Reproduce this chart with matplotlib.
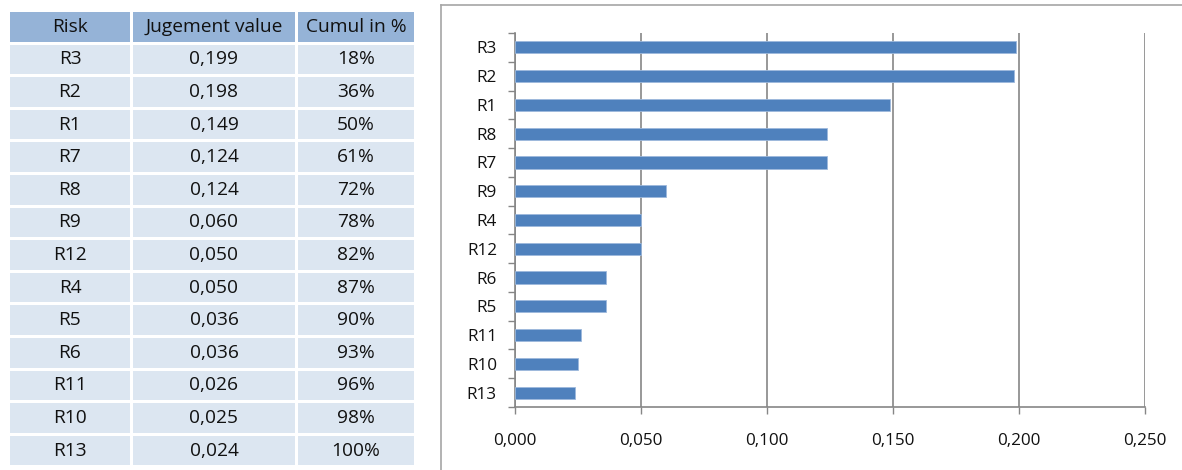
import matplotlib
matplotlib.use("Agg")
import matplotlib.pyplot as plt
from matplotlib.patches import Rectangle
from matplotlib.ticker import FuncFormatter

plt.rcParams['font.family'] = ['Open Sans', 'DejaVu Sans']

# Table data
table_header = ["Risk", "Jugement value", "Cumul in %"]
table_risks = ["R3", "R2", "R1", "R7", "R8", "R9", "R12", "R4", "R5", "R6", "R11", "R10", "R13"]
table_values = ["0,199", "0,198", "0,149", "0,124", "0,124", "0,060", "0,050", "0,050",
                "0,036", "0,036", "0,026", "0,025", "0,024"]
table_cumul = ["18%", "36%", "50%", "61%", "72%", "78%", "82%", "87%", "90%", "93%",
               "96%", "98%", "100%"]

# Chart data
bar_labels = ["R3", "R2", "R1", "R8", "R7", "R9", "R4", "R12", "R6", "R5", "R11", "R10", "R13"]
bar_values = [0.199, 0.198, 0.149, 0.124, 0.124, 0.060, 0.050, 0.050, 0.036, 0.036, 0.026, 0.025, 0.024]
x_ticks = [0.0, 0.05, 0.10, 0.15, 0.20, 0.25]

W, H = 1182, 470
fig = plt.figure(figsize=(W / 100, H / 100), dpi=100)

# Background overlay axes in pixel coordinates
bg = fig.add_axes([0, 0, 1, 1])
bg.set_xlim(0, W)
bg.set_ylim(H, 0)
bg.axis('off')

header_col = "#95B3D7"
row_col = "#DCE6F1"
text_col = "#111111"
col_edges = [(10, 130), (133, 295), (298, 414)]
top = 12
row_h = 32.6
gap = 3
rows = [table_header] + [list(r) for r in zip(table_risks, table_values, table_cumul)]
for i, row in enumerate(rows):
    y0 = top + i * row_h
    for (x0, x1), txt in zip(col_edges, row):
        bg.add_patch(Rectangle((x0, y0), x1 - x0, row_h - gap,
                               facecolor=header_col if i == 0 else row_col, edgecolor='none'))
        bg.text((x0 + x1) / 2, y0 + (row_h - gap) / 2, txt, ha='center', va='center',
                fontsize=13.8, color=text_col)

# Chart frame
bg.plot([441, 441], [5, H], color="#a6a6a6", lw=1.2)
bg.plot([441, W], [5, 5], color="#a6a6a6", lw=1.2)

# Bar chart
ax = fig.add_axes([515 / W, 63 / H, (1145 - 515) / W, (407 - 33) / H])
ypos = list(range(len(bar_labels)))
ax.barh(ypos, bar_values, height=0.42, color="#4F81BD", edgecolor="#9DB9DC", linewidth=0.6, zorder=3)
ax.set_ylim(len(bar_labels) - 0.5, -0.5)
ax.set_xlim(0, 0.25)
ax.set_yticks(ypos)
ax.set_yticklabels(bar_labels, fontsize=12.3, color=text_col)
ax.set_yticks([i - 0.5 for i in range(len(bar_labels) + 1)], minor=True)
ax.tick_params(axis='y', which='major', length=0, pad=13)
ax.tick_params(axis='y', which='minor', length=5, color="#868686", width=1)
ax.set_xticks(x_ticks)
ax.xaxis.set_major_formatter(FuncFormatter(lambda v, p: f"{v:.3f}".replace('.', ',')))
ax.tick_params(axis='x', length=5, color="#868686", width=1, pad=14, labelsize=12.3, labelcolor=text_col)
ax.grid(axis='x', color="#868686", lw=1.2, zorder=0)
for s in ['top', 'right']:
    ax.spines[s].set_visible(False)
for s in ['left', 'bottom']:
    ax.spines[s].set_color("#868686")
    ax.spines[s].set_linewidth(1.2)

fig.savefig("out.png", dpi=100)
